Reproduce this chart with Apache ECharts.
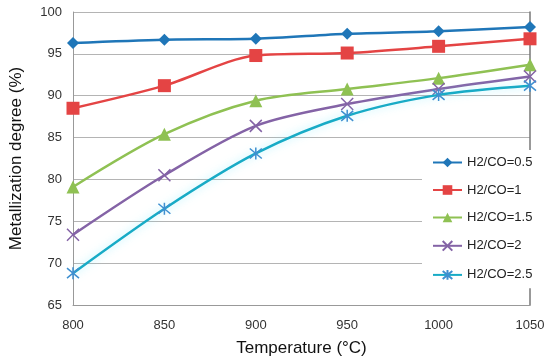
<!DOCTYPE html>
<html><head><meta charset="utf-8">
<script src="https://cdn.jsdelivr.net/npm/echarts@6/dist/echarts.min.js"></script>
<style>html,body{margin:0;padding:0;background:#fff}#c{width:550px;height:364px}</style>
</head><body><div id="c"></div>
<script>
const temperatures = [800, 850, 900, 950, 1000, 1050];
const seriesNames = ['H2/CO=0.5', 'H2/CO=1', 'H2/CO=1.5', 'H2/CO=2', 'H2/CO=2.5'];
const ratio05 = [96.3, 96.7, 96.8, 97.4, 97.7, 98.2];
const ratio10 = [88.5, 91.2, 94.8, 95.1, 95.9, 96.8];
const ratio15 = [79.1, 85.4, 89.4, 90.8, 92.1, 93.7];
const ratio20 = [73.4, 80.5, 86.4, 89.0, 90.8, 92.3];
const ratio25 = [68.8, 76.5, 83.1, 87.6, 90.1, 91.2];
const yTicks = [65, 70, 75, 80, 85, 90, 95, 100];

const colors = ['#1f76b8', '#e44444', '#8fc153', '#8463a6', '#18abc6'];
const xPath = 'path://M0,0L10,10M10,0L0,10';
const starPath = 'path://M0,0L10,10M10,0L0,10M5,-1L5,11';

const allData = [ratio05, ratio10, ratio15, ratio20, ratio25];
const symbols = ['diamond', 'rect', 'triangle', xPath, starPath];
const symSizes = [12, 13, 13, 12, 12];

const chart = echarts.init(document.getElementById('c'));
chart.setOption({
  animation: false,
  color: colors,
  grid: {left: 73, right: 20, top: 12, bottom: 59},
  legend: {
    orient: 'vertical', left: 422, top: 150,
    padding: [6, 4, 6, 10],
    backgroundColor: '#fff',
    itemWidth: 29, itemHeight: 12, itemGap: 14.5,
    textStyle: {fontFamily: 'Liberation Sans, Arial, sans-serif', fontSize: 13, color: '#222'},
    data: seriesNames
  },
  xAxis: {
    type: 'value', min: 800, max: 1050, interval: 50,
    name: 'Temperature (°C)', nameLocation: 'middle', nameGap: 35,
    nameTextStyle: {fontFamily: 'Liberation Sans, Arial, sans-serif', fontSize: 17, color: '#111'},
    axisLine: {show: true, lineStyle: {color: '#999'}},
    axisTick: {show: false},
    splitLine: {show: false},
    axisLabel: {fontFamily: 'Liberation Sans, Arial, sans-serif', fontSize: 13, color: '#333', margin: 14,
      formatter: v => String(v)}
  },
  yAxis: [{
    type: 'value', min: 65, max: 100, interval: 5,
    name: 'Metallization degree (%)', nameLocation: 'middle', nameGap: 48, nameRotate: 90,
    nameTextStyle: {fontFamily: 'Liberation Sans, Arial, sans-serif', fontSize: 17, color: '#111'},
    axisLine: {show: true, lineStyle: {color: '#999'}},
    axisTick: {show: false},
    splitLine: {show: true, lineStyle: {color: '#b4b4b4'}},
    axisLabel: {fontFamily: 'Liberation Sans, Arial, sans-serif', fontSize: 13, color: '#333', margin: 11,
      formatter: v => yTicks.includes(v) ? String(v) : ''}
  }, {
    type: 'value', min: 65, max: 100, interval: 5, position: 'right',
    axisLine: {show: true, lineStyle: {color: '#777', width: 1.5}},
    axisTick: {show: false}, axisLabel: {show: false}, splitLine: {show: false}
  }],
  series: allData.map((d, i) => ({
    name: seriesNames[i],
    type: 'line',
    smooth: 0.3,
    data: temperatures.map((t, j) => [t, d[j]]),
    symbol: symbols[i],
    symbolSize: symSizes[i],
    showAllSymbol: true,
    z: 2 + i,
    lineStyle: Object.assign({width: 2.5, color: colors[i]},
      i === 4 ? {shadowColor: 'rgba(120,235,255,0.6)', shadowBlur: 8} : {}),
    itemStyle: i >= 3 ? {color: 'none', borderColor: i === 4 ? '#3f8fd0' : colors[i], borderWidth: 1.5} : {color: colors[i]}
  }))
});
</script></body></html>
